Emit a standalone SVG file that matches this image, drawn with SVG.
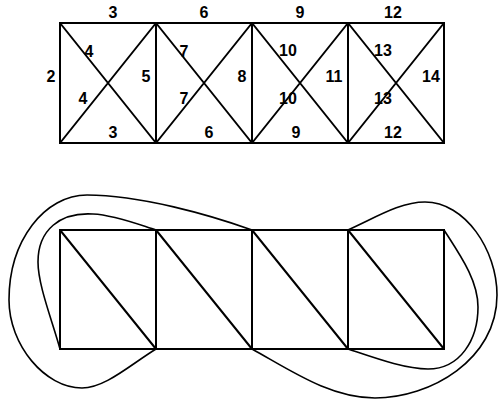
<svg xmlns="http://www.w3.org/2000/svg" width="498" height="403" viewBox="0 0 498 403">
<style>
.e{stroke:#000;stroke-width:2;fill:none;stroke-linecap:round}
.c{stroke:#000;stroke-width:1.6;fill:none}
text{font-family:"Liberation Sans",Arial,sans-serif;font-weight:bold;font-size:16px;text-anchor:middle;fill:#000}
</style>
<rect width="498" height="403" fill="#fff"/>
<g id="connectors">
<g id="top-grid">
<path class="e" d="M60,23H444V143H60Z M156,23V143 M252,23V143 M348,23V143"/>
<path class="e" d="M60,23L156,143 M60,143L156,23 M156,23L252,143 M156,143L252,23 M252,23L348,143 M252,143L348,23 M348,23L444,143 M348,143L444,23"/>
</g>
<g id="bottom-grid">
<path class="e" d="M60,230H444V349H60Z M156,230V349 M252,230V349 M348,230V349"/>
<path class="e" d="M60,230L156,349 M156,230L252,349 M252,230L348,349 M348,230L444,349"/>
</g>
<g id="curves">
<path class="c" d="M60,349 C52,320 38,285 38,262 C38,230 60,212 93,214 C115,215 140,225 156,230"/>
<path class="c" d="M156,349 C130,365 105,388 82,388 C45,388 9,345 9,300 C9,240 45,195 87,195 C140,195 210,215 252,230"/>
<path class="c" d="M348,349 C375,358 405,369 428,369 C460,369 478,340 478,307 C478,280 460,255 444,230"/>
<path class="c" d="M348,230 C375,218 400,202 425,202 C465,202 497,250 497,295 C497,360 430,398 375,398 C330,398 290,370 252,349"/>
</g>
</g>
<g id="labels">
<text x="113" y="18">3</text>
<text x="204" y="18">6</text>
<text x="300" y="18">9</text>
<text x="393" y="18">12</text>
<text x="51" y="82">2</text>
<text x="146" y="82">5</text>
<text x="242" y="82">8</text>
<text x="334" y="82">11</text>
<text x="431" y="82">14</text>
<text x="89" y="57">4</text>
<text x="184" y="57">7</text>
<text x="288" y="56">10</text>
<text x="383" y="56">13</text>
<text x="83" y="104">4</text>
<text x="184" y="104">7</text>
<text x="288" y="104">10</text>
<text x="383" y="104">13</text>
<text x="113" y="138">3</text>
<text x="209" y="138">6</text>
<text x="296" y="138">9</text>
<text x="393" y="138">12</text>
</g>
</svg>
